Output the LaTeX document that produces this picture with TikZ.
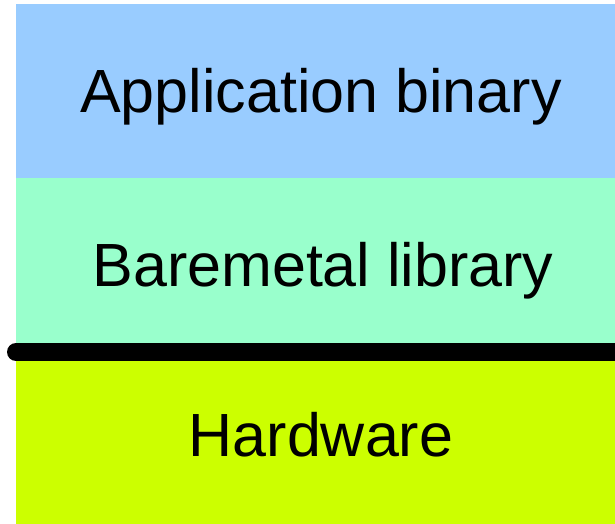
\documentclass[tikz,border=0pt]{standalone}
\usepackage{fontspec}
\setmainfont{Liberation Sans}
\usetikzlibrary{positioning,backgrounds}

\definecolor{appblue}{HTML}{99CCFF}
\definecolor{libgreen}{HTML}{99FFCC}
\definecolor{hwyellow}{HTML}{CCFF00}

\begin{document}
\begin{tikzpicture}[x=1pt, y=-1pt]
    \tikzset{
        layer/.style = {rectangle, anchor=north west, inner sep=0pt, outer sep=0pt, minimum width=599pt},
        caption/.style = {anchor=base, inner sep=0pt, font=\fontsize{61}{61}\selectfont},
        boundary/.style = {line width=18pt, line cap=round, draw=black}
    }
    \useasboundingbox (0,0) rectangle (615,524);

    \node[layer, fill=appblue, minimum height=174pt] (app) at (16,4) {};
    \node[layer, fill=libgreen, minimum height=174pt] (lib) at (16,178) {};
    \node[layer, fill=hwyellow, minimum height=172pt] (hw) at (16,352) {};

    \node[caption] (apptext) at (321,112.7) {Application binary};
    \node[caption] (libtext) at (323,286.7) {Baremetal library};
    \node[caption] (hwtext) at (321,456.7) {Hardware};

    % split between software and hardware
    \coordinate (splitl) at (hw.north west);
    \coordinate (splitr) at (hw.north east);
    \draw[boundary] (splitl) -- (splitr);
\end{tikzpicture}
\end{document}
